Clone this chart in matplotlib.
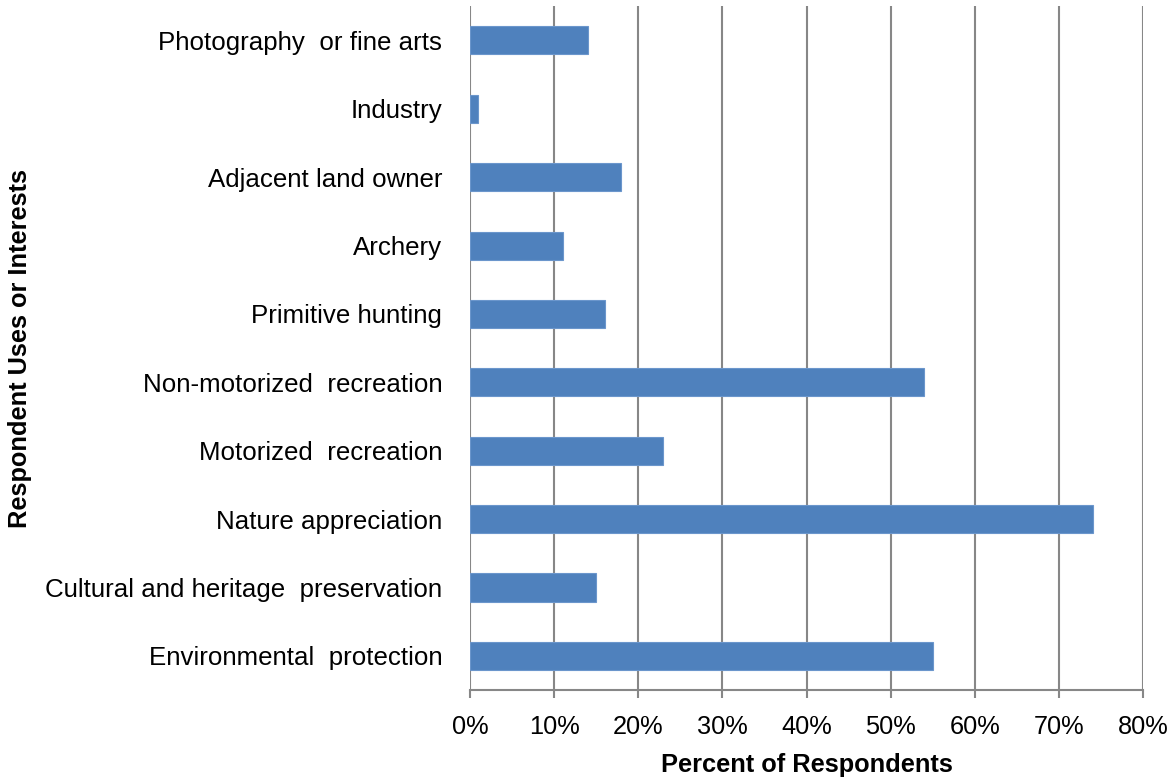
import matplotlib.pyplot as plt
from matplotlib.ticker import PercentFormatter

plt.rcParams['font.family'] = ['Liberation Sans', 'DejaVu Sans']

# categories from bottom to top
categories = [
    'Environmental  protection',
    'Cultural and heritage  preservation',
    'Nature appreciation',
    'Motorized  recreation',
    'Non-motorized  recreation',
    'Primitive hunting',
    'Archery',
    'Adjacent land owner',
    'Industry',
    'Photography  or fine arts',
]
percents = [55, 15, 74, 23, 54, 16, 11, 18, 1, 14]
xticks = [0, 10, 20, 30, 40, 50, 60, 70, 80]

fig = plt.figure(figsize=(11.75, 7.78), dpi=100)
ax = fig.add_axes([0.4, 0.113, 0.5728, 0.879])

ax.barh(range(len(categories)), percents, height=0.41,
        color='#4F81BD', edgecolor='#6B96CC', linewidth=0.8, zorder=3)

ax.set_xlim(0, 80)
ax.set_ylim(-0.5, len(categories) - 0.5)
ax.set_xticks(xticks)
ax.xaxis.set_major_formatter(PercentFormatter(decimals=0))
ax.set_yticks(range(len(categories)))
ax.set_yticklabels(categories)

ax.grid(axis='x', color='#878787', linewidth=1.5, zorder=0)
ax.grid(axis='y', visible=False)
for s in ['top', 'right', 'left']:
    ax.spines[s].set_visible(False)
ax.spines['bottom'].set_color('#878787')
ax.spines['bottom'].set_linewidth(1.5)

ax.tick_params(axis='x', length=6, width=1.5, color='#878787',
               labelsize=18.3, pad=12)
ax.tick_params(axis='y', length=0, labelsize=18.6, pad=20)

ax.set_xlabel('Percent of Respondents', fontsize=18.3, fontweight='bold')
ax.set_ylabel('Respondent Uses or Interests', fontsize=18.3, fontweight='bold')
ax.xaxis.set_label_coords(0.5, -0.092)
ax.yaxis.set_label_coords(-0.651, 0.5)

fig.savefig('out.png', dpi=100)
